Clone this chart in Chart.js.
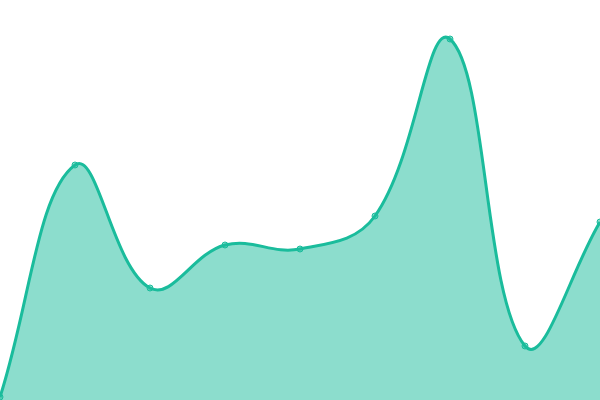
<!DOCTYPE html>
<html>
<head>
<meta charset="utf-8">
<style>
  html, body { margin: 0; padding: 0; background: #fff; }
  #wrap { width: 600px; height: 400px; }
</style>
<script src="https://cdn.jsdelivr.net/npm/chart.js@4"></script>
</head>
<body>
<div id="wrap"><canvas id="myChart"></canvas></div>
<script>
  // values, scale 0..400
  const categories = ['1', '2', '3', '4', '5', '6', '7', '8', '9'];
  const seriesValues = [3, 235, 112, 155, 151, 184, 361, 54, 178];
  const yMin = 0;
  const yMax = 400;

  const ctx = document.getElementById('myChart').getContext('2d');
  const myChart = new Chart(ctx, {
    type: 'line',
    data: {
      labels: categories,
      datasets: [{
        data: seriesValues,
        fill: true,
        tension: 0.4,
        borderColor: '#1abc9c',
        backgroundColor: 'rgba(26, 188, 156, 0.5)',
        borderWidth: 3,
        pointRadius: 3,
        pointBorderWidth: 1,
        pointBorderColor: '#1abc9c',
        pointBackgroundColor: 'rgba(26, 188, 156, 0.5)'
      }]
    },
    options: {
      responsive: true,
      maintainAspectRatio: false,
      animation: false,
      layout: { padding: 0, autoPadding: false },
      plugins: {
        legend: { display: false },
        tooltip: { enabled: false }
      },
      scales: {
        x: { display: false, offset: false },
        y: { display: false, min: yMin, max: yMax }
      }
    }
  });
</script>
</body>
</html>
